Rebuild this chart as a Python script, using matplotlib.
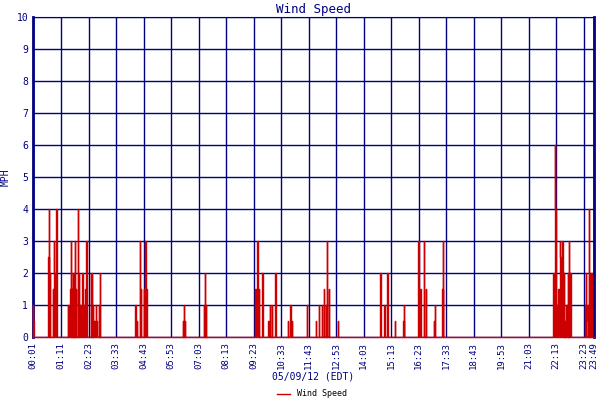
import matplotlib
matplotlib.use("Agg")
import matplotlib.pyplot as plt
import numpy as np

event_minutes = [1, 2, 40, 42, 44, 52, 55, 56, 59, 61, 90, 93, 94, 96, 98, 101, 103, 105, 108, 110,
                 115, 118, 120, 122, 125, 127, 130, 135, 137, 148, 151, 153, 158, 161, 163, 169, 171,
                 260, 262, 265, 274, 276, 284, 286, 287, 290, 383, 386, 388, 437, 439, 442,
                 567, 572, 577, 585, 600, 605, 610, 618, 650, 656, 661, 699, 721, 729, 736, 742, 747,
                 749, 754, 777, 886, 896, 903, 923, 944, 946, 982, 987, 997, 1002, 1022, 1025, 1043,
                 1045, 1325, 1326, 1329, 1331, 1333, 1336, 1339, 1342, 1344, 1349, 1352, 1353, 1355,
                 1359, 1363, 1366, 1369, 1371, 1407, 1409, 1413, 1415, 1417, 1419, 1423]
event_speeds = [1, 0.5, 2.5, 4, 2, 1.5, 3, 2, 2, 4, 1, 0.5, 1, 1.5, 3, 1.5, 2, 2, 3, 1.5,
                4, 2, 0.5, 1, 0.5, 2, 1, 1.5, 3, 2, 2, 1, 0.5, 1, 0.5, 1, 2,
                0.5, 1, 0.5, 3, 1.5, 1.5, 2, 3, 1.5, 0.5, 1, 0.5, 1, 2, 1,
                1.5, 3, 1.5, 2, 0.5, 1, 1, 2, 0.5, 1, 0.5, 1, 0.5, 1, 1, 1.5, 1,
                3, 1.5, 0.5, 2, 1, 2, 0.5, 0.5, 1, 3, 1.5, 3, 1.5, 0.5, 1, 1.5,
                3, 1, 2, 6, 4, 2, 1, 1.5, 3, 2.5, 3, 2, 1, 0.5,
                1, 2, 3, 2, 0.5, 1, 2, 1, 0.5, 4, 2, 2]
tick_minutes = [1, 71, 143, 213, 283, 353, 423, 493, 563, 633, 703, 773, 843, 913, 983, 1053,
                1123, 1193, 1263, 1333, 1403, 1429]
tick_labels = ["00:01", "01:11", "02:23", "03:33", "04:43", "05:53", "07:03", "08:13", "09:23",
               "10:33", "11:43", "12:53", "14:03", "15:13", "16:23", "17:33", "18:43", "19:53",
               "21:03", "22:13", "23:23", "23:49"]

# build step series: each event is a 1-minute pulse, zero elsewhere
t, v = [0], [0]
for m, s in zip(event_minutes, event_speeds):
    t += [m - 0.5, m - 0.5, m + 0.5, m + 0.5]
    v += [0, s, s, 0]
t.append(1429); v.append(0)

navy = "#000080"
mono = "DejaVu Sans Mono"
fig = plt.figure(figsize=(6, 4), dpi=100)
ax = fig.add_axes([0.055, 0.1575, 0.935, 0.8])
ax.plot(t, v, color="#cc0000", lw=1, label="Wind Speed", zorder=3, clip_on=False)
ax.set_xlim(1, 1429)
ax.set_ylim(0, 10)
ax.set_xticks(tick_minutes)
ax.set_xticklabels(tick_labels, rotation=90, fontsize=6.5, color=navy, family=mono)
ax.set_yticks(range(0, 11))
ax.tick_params(axis="y", labelsize=7, colors=navy, length=0)
ax.tick_params(axis="x", length=0, colors=navy)
for lab in ax.get_yticklabels():
    lab.set_family(mono)
ax.grid(True, color=navy, lw=1)
for s in ax.spines.values():
    s.set_color(navy)
ax.spines["left"].set_linewidth(2)
ax.spines["right"].set_linewidth(2)
ax.set_title("Wind Speed", color=navy, family=mono, fontsize=9, pad=3)
ax.set_ylabel("MPH", color=navy, family=mono, fontsize=7)
ax.set_xlabel("05/09/12 (EDT)", color=navy, family=mono, fontsize=7, labelpad=2)
fig.legend(loc="lower center", bbox_to_anchor=(0.52, -0.015), frameon=False,
           prop={"family": mono, "size": 6}, handlelength=1.5)
fig.savefig("out.png", dpi=100)
